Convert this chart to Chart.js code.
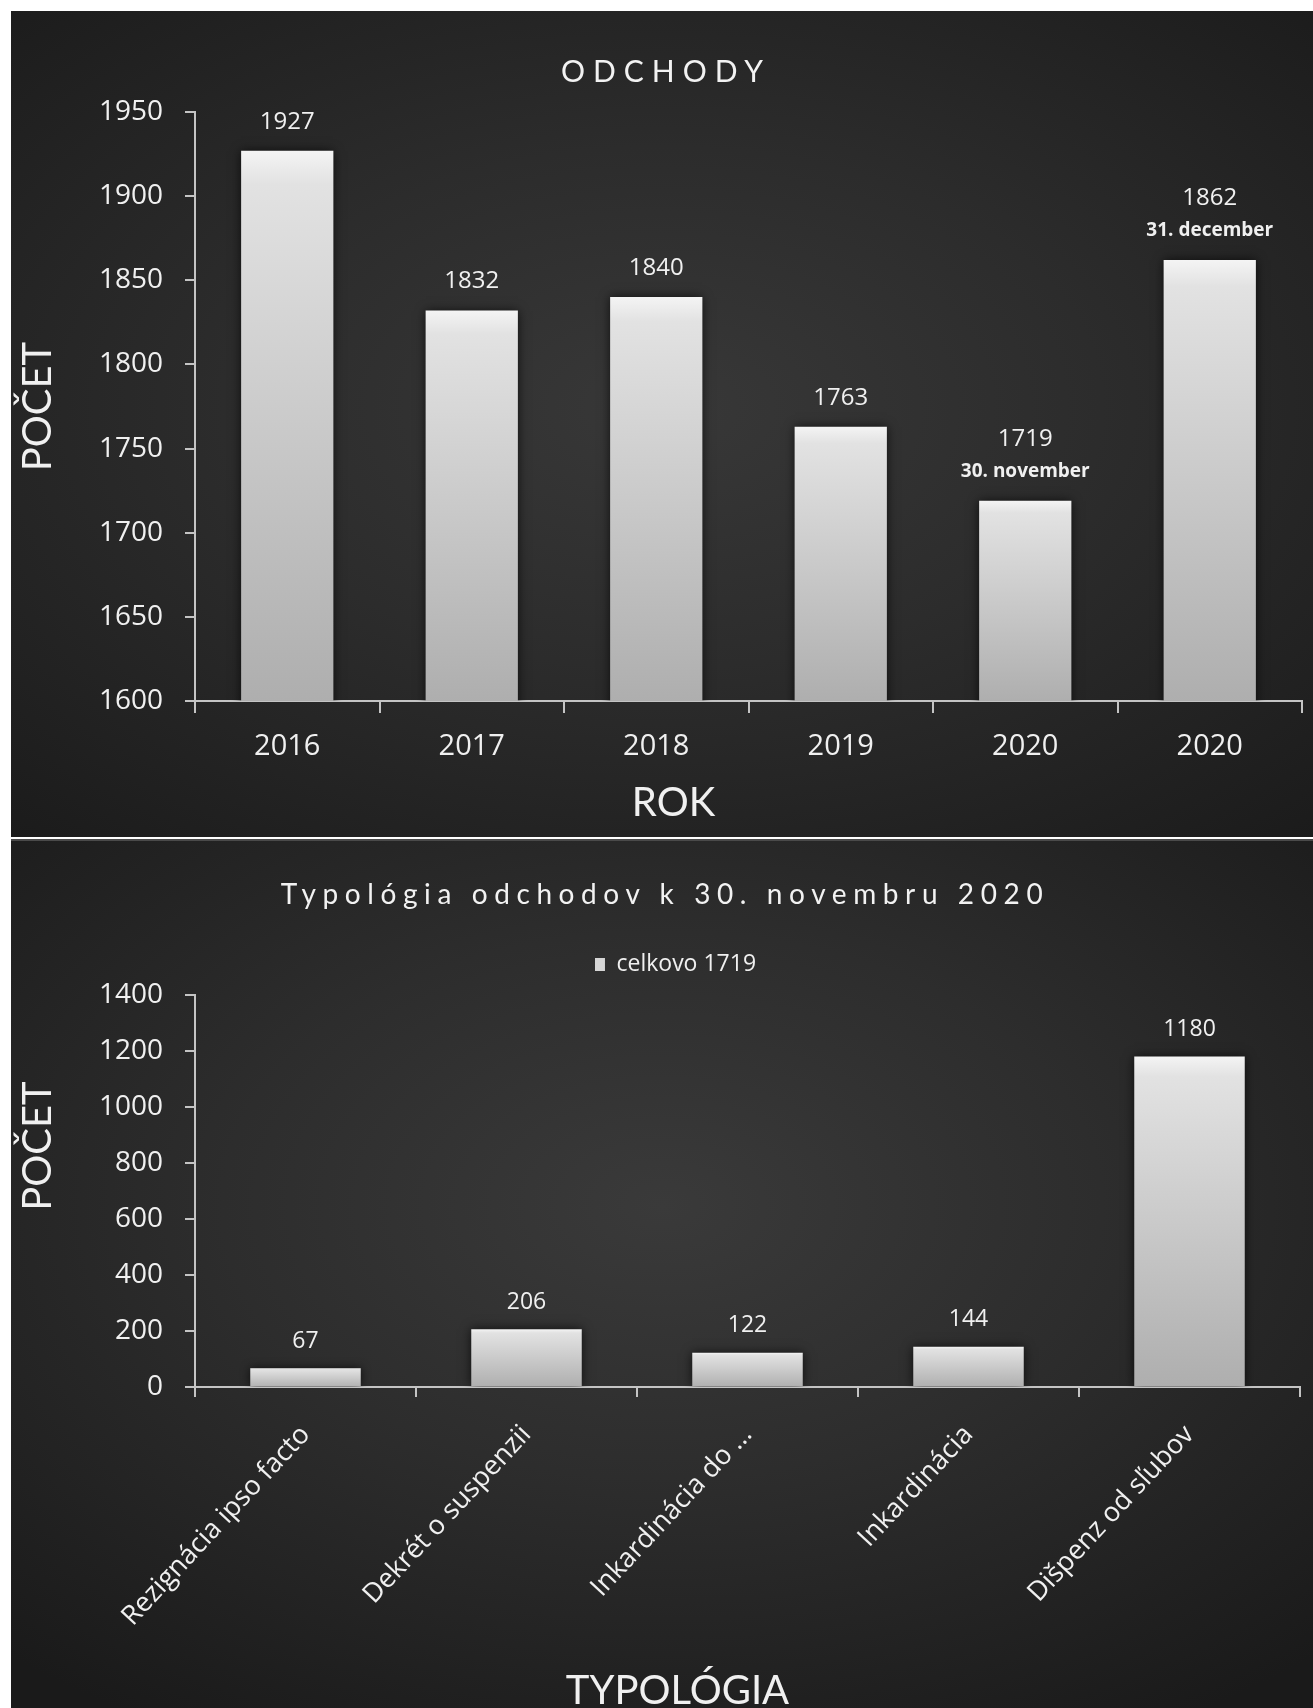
<!DOCTYPE html>
<html>
<head>
<meta charset="utf-8">
<script src="https://cdn.jsdelivr.net/npm/chart.js@4.4.1/dist/chart.umd.min.js"></script>
<style>
  html, body { margin: 0; padding: 0; background: #fff; }
  body { width: 1313px; height: 1708px; position: relative; overflow: hidden; }
  .panel { position: absolute; left: 11px; width: 1302px; }
  #topPanel { top: 11px; height: 826px;
    background: radial-gradient(ellipse 75% 70% at 50% 48%, #383838 0%, #2c2c2c 45%, #1b1b1b 100%); }
  #bottomPanel { top: 839px; height: 869px; border-top: 2px solid #4a4a4a; box-sizing: border-box;
    background: radial-gradient(ellipse 75% 70% at 50% 42%, #3a3a3a 0%, #2d2d2d 45%, #1a1a1a 100%); }
  .chartBox { position: absolute; left: 0; top: 0; width: 1302px; }
  .title { position: absolute; left: 0; width: 1302px; text-align: center; color: #f2f2f2;
    font-family: Lato, "Open Sans", sans-serif; white-space: nowrap; line-height: 1; }
  #topTitle { top: 44px; font-size: 30px; letter-spacing: 8px; padding-left: 8px; box-sizing: border-box; }
  #bottomTitle { top: 38px; font-size: 28px; letter-spacing: 6.6px; padding-left: 6px; box-sizing: border-box; }
</style>
</head>
<body>
<div class="panel" id="topPanel">
  <div class="chartBox" style="height:826px"><canvas id="odchodyChart"></canvas></div>
  <div class="title" id="topTitle">ODCHODY</div>
</div>
<div class="panel" id="bottomPanel">
  <div class="chartBox" style="height:867px"><canvas id="typologiaChart"></canvas></div>
  <div class="title" id="bottomTitle">Typológia odchodov k 30. novembru 2020</div>
</div>
<script>
// data for chart 1
const years = ['2016', '2017', '2018', '2019', '2020', '2020'];
const departures = [1927, 1832, 1840, 1763, 1719, 1862];
const dateNotes = ['', '', '', '', '30. november', '31. december'];
const topTicks = [1600, 1650, 1700, 1750, 1800, 1850, 1900, 1950];

// data for chart 2
const types = ['Rezignácia ipso facto', 'Dekrét o suspenzii', 'Inkardinácia do ...', 'Inkardinácia', 'Dišpenz od sľubov'];
const typeCounts = [67, 206, 122, 144, 1180];
const totalLabel = 'celkovo 1719';
const bottomTicks = [0, 200, 400, 600, 800, 1000, 1200, 1400];

const tickFont = { family: '"Open Sans", sans-serif', size: 28 };
const axisTitleFont = { family: 'Lato, "Open Sans", sans-serif', size: 40 };
const axisColor = '#c4c4c4';
const textColor = '#f0f0f0';

// the original centres the x titles on the whole panel, not on the plot area;
// trailing em spaces move the visible word left by half their width
const EM = '\u2003';
const EN = '\u2002';

// bar fill: light at the top of each bar, darker towards the base
function barGradient(context) {
    const chart = context.chart;
    const yScale = chart.scales.y;
    if (!chart.chartArea || !yScale || context.raw === undefined) return '#d8d8d8';
    const top = yScale.getPixelForValue(context.raw);
    const bottom = chart.chartArea.bottom;
    const g = chart.ctx.createLinearGradient(0, top, 0, bottom + 1);
    g.addColorStop(0, '#f4f4f4');
    g.addColorStop(0.06, '#e2e2e2');
    g.addColorStop(1, '#aeaeae');
    return g;
}

// shadow behind bars + value labels on top
const barDecor = {
    id: 'barDecor',
    beforeDatasetsDraw(chart) {
        const ctx = chart.ctx;
        ctx.save();
        ctx.shadowColor = 'rgba(0,0,0,0.7)';
        ctx.shadowBlur = 10;
    },
    afterDatasetsDraw(chart, args, opts) {
        const ctx = chart.ctx;
        ctx.restore();
        const meta = chart.getDatasetMeta(0);
        const values = chart.data.datasets[0].data;
        ctx.save();
        ctx.fillStyle = textColor;
        ctx.textAlign = 'center';
        ctx.textBaseline = 'middle';
        meta.data.forEach((bar, i) => {
            let y = bar.y - opts.gap;
            const note = opts.notes ? opts.notes[i] : '';
            if (note) {
                ctx.font = 'bold 19px "Open Sans", sans-serif';
                ctx.fillText(note, bar.x, y);
                y -= opts.lineGap;
            }
            ctx.font = opts.font;
            ctx.fillText(String(values[i]), bar.x, y);
        });
        ctx.restore();
    }
};

// empty box below the legend to push the plot area down
const legendSpacer = {
    id: 'legendSpacer',
    beforeInit(chart, args, opts) {
        if (!opts || !opts.size) return;
        Chart.layouts.addBox(chart, {
            position: 'top',
            weight: 500,
            fullSize: true,
            options: {},
            update(maxWidth) { this.width = maxWidth; this.height = opts.size; },
            isHorizontal() { return true; },
            getPadding() { return { left: 0, top: 0, right: 0, bottom: 0 }; },
            draw() {}
        });
    }
};

function axisGrid() {
    return { display: true, drawOnChartArea: false, drawTicks: true, tickLength: 10, color: axisColor, lineWidth: 2 };
}

const plainNumber = (v) => String(v);

const odchodyChart = new Chart(document.getElementById('odchodyChart'), {
    type: 'bar',
    data: {
        labels: years,
        datasets: [{
            label: 'Odchody',
            data: departures,
            backgroundColor: barGradient,
            borderWidth: 0,
            barPercentage: 0.5,
            categoryPercentage: 1
        }]
    },
    options: {
        responsive: true,
        maintainAspectRatio: false,
        animation: false,
        layout: { padding: { top: 101, right: 11, left: 0, bottom: 0 } },
        plugins: {
            legend: { display: false },
            tooltip: { enabled: false },
            barDecor: { gap: 29, lineGap: 33, notes: dateNotes, font: '24px "Open Sans", sans-serif' }
        },
        scales: {
            x: {
                grid: Object.assign(axisGrid(), { tickLength: 12 }),
                border: { display: true, color: axisColor, width: 2 },
                ticks: { color: textColor, font: { family: '"Open Sans", sans-serif', size: 29 }, padding: 16, maxRotation: 0 },
                title: { display: true, text: 'ROK' + EM.repeat(5), color: textColor, font: axisTitleFont, padding: { top: 0, bottom: 10 } },
                afterFit(scale) { scale.height = 136; }
            },
            y: {
                min: topTicks[0],
                max: topTicks[topTicks.length - 1],
                afterBuildTicks(scale) { scale.ticks = topTicks.map(v => ({ value: v })); },
                grid: axisGrid(),
                border: { display: true, color: axisColor, width: 2 },
                ticks: { color: textColor, font: tickFont, padding: 22, callback: plainNumber },
                title: { display: true, text: 'POČET', color: textColor, font: axisTitleFont, padding: { top: 3, bottom: 0 } },
                afterFit(scale) { scale.width = 184; }
            }
        }
    },
    plugins: [barDecor]
});

const typologiaChart = new Chart(document.getElementById('typologiaChart'), {
    type: 'bar',
    data: {
        labels: types,
        datasets: [{
            label: totalLabel,
            data: typeCounts,
            backgroundColor: barGradient,
            borderWidth: 0,
            barPercentage: 0.5,
            categoryPercentage: 1
        }]
    },
    options: {
        responsive: true,
        maintainAspectRatio: false,
        animation: false,
        // left padding nudges the centred legend right; the y scale is narrowed to match
        layout: { padding: { top: 104, right: 13, left: 40, bottom: 0 } },
        plugins: {
            legend: {
                display: true,
                position: 'top',
                labels: {
                    color: textColor,
                    font: { family: '"Open Sans", sans-serif', size: 23 },
                    boxWidth: 10,
                    boxHeight: 13,
                    padding: 8,
                    generateLabels: (chart) => [{
                        text: chart.data.datasets[0].label,
                        fillStyle: '#d6d6d6',
                        strokeStyle: '#d6d6d6',
                        lineWidth: 0,
                        fontColor: textColor,
                        datasetIndex: 0,
                        hidden: false
                    }]
                }
            },
            legendSpacer: { size: 9 },
            tooltip: { enabled: false },
            barDecor: { gap: 27, lineGap: 33, font: '23px "Open Sans", sans-serif' }
        },
        scales: {
            x: {
                grid: axisGrid(),
                border: { display: true, color: axisColor, width: 2 },
                ticks: { color: textColor, font: { family: '"Open Sans", sans-serif', size: 27 }, padding: 22,
                         minRotation: 47, maxRotation: 47, autoSkip: false },
                title: { display: true, text: 'TYPOLÓGIA' + EM.repeat(4) + EN, color: textColor, font: axisTitleFont, padding: { top: 0, bottom: -7 } },
                afterFit(scale) { scale.height = 321; }
            },
            y: {
                min: bottomTicks[0],
                max: bottomTicks[bottomTicks.length - 1],
                afterBuildTicks(scale) { scale.ticks = bottomTicks.map(v => ({ value: v })); },
                grid: axisGrid(),
                border: { display: true, color: axisColor, width: 2 },
                ticks: { color: textColor, font: tickFont, padding: 22, callback: plainNumber },
                // leading em spaces lift the title above the axis middle, as in the original
                title: { display: true, text: EM.repeat(3) + 'POČET', color: textColor, font: axisTitleFont, padding: { top: -37, bottom: 0 } },
                afterFit(scale) { scale.width = 144; }
            }
        }
    },
    plugins: [barDecor, legendSpacer]
});
</script>
</body>
</html>
